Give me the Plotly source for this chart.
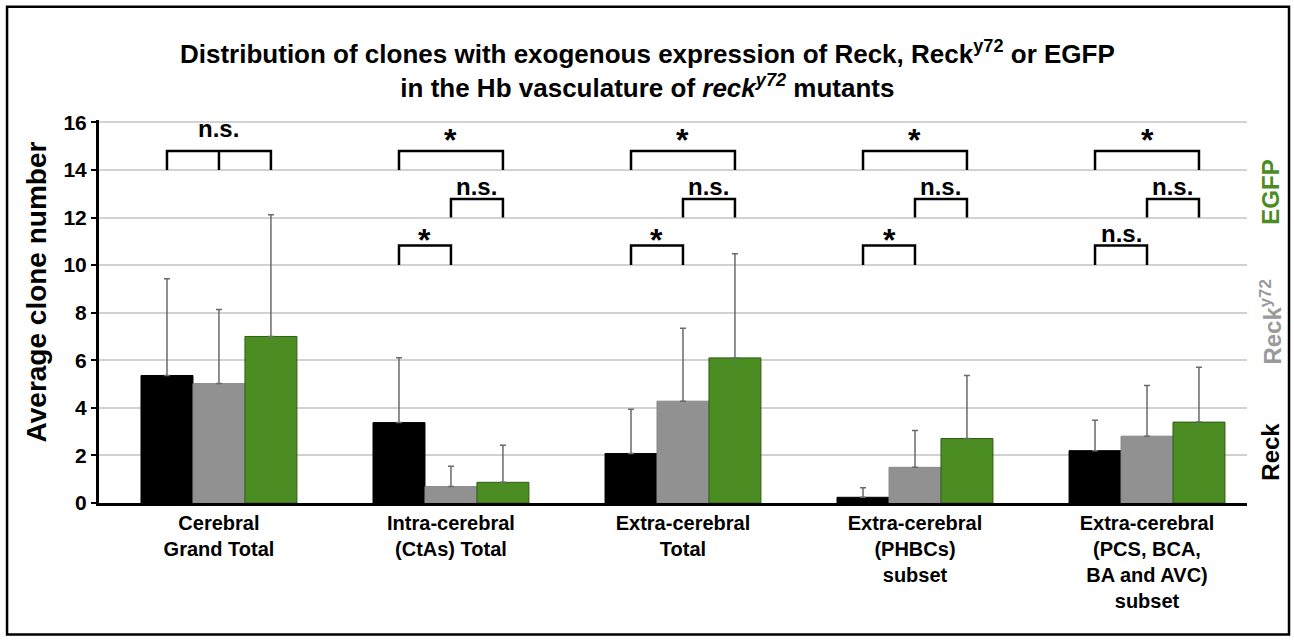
import plotly.graph_objects as go

# ---------------- data ----------------
categories = [
    "Cerebral<br>Grand Total",
    "Intra-cerebral<br>(CtAs) Total",
    "Extra-cerebral<br>Total",
    "Extra-cerebral<br>(PHBCs)<br>subset",
    "Extra-cerebral<br>(PCS, BCA,<br>BA and AVC)<br>subset",
]
series_names = ["Reck", "Reck<sup>y72</sup>", "EGFP"]
reck = [5.36, 3.38, 2.08, 0.24, 2.20]
reck_err = [4.07, 2.73, 1.86, 0.40, 1.28]
reck_y72 = [5.02, 0.69, 4.28, 1.50, 2.81]
reck_y72_err = [3.11, 0.86, 3.07, 1.55, 2.13]
egfp = [7.00, 0.87, 6.10, 2.71, 3.40]
egfp_err = [5.12, 1.56, 4.38, 2.65, 2.31]

# significance labels: Reck vs EGFP (top), Reck^y72 vs EGFP (middle), Reck vs Reck^y72 (lower)
sig_top = ["n.s.", "*", "*", "*", "*"]
sig_mid = [None, "n.s.", "n.s.", "n.s.", "n.s."]
sig_low = [None, "*", "*", "*", "n.s."]

y_ticks = [0, 2, 4, 6, 8, 10, 12, 14, 16]

# ---------------- style ----------------
FONT = "Liberation Sans, Arial, sans-serif"
BLACK = "#000000"
GRAY = "#919191"
GREEN = "#4b8c23"
BARGAP = 0.328
BAR_W = (1 - BARGAP) / 3

x = list(range(len(categories)))

fig = go.Figure()
series = [
    (reck, reck_err, BLACK, "#000000"),
    (reck_y72, reck_y72_err, GRAY, "#8a8a8a"),
    (egfp, egfp_err, GREEN, "#2f5e14"),
]
for name, (vals, errs, col, lcol) in zip(series_names, series):
    fig.add_trace(go.Bar(
        x=x, y=vals, name=name,
        marker=dict(color=col, line=dict(color=lcol, width=1)),
        error_y=dict(type="data", symmetric=False, array=errs,
                     arrayminus=[0] * len(errs), color="#6a6a6a",
                     thickness=1.5, width=3),
        showlegend=False, hoverinfo="skip",
    ))

shapes = []
annotations = []


def bracket(xs, y_leg, y_top):
    path = f"M {xs[0]} {y_leg} L {xs[0]} {y_top} L {xs[-1]} {y_top} L {xs[-1]} {y_leg}"
    for xm in xs[1:-1]:
        path += f" M {xm} {y_top} L {xm} {y_leg}"
    shapes.append(dict(type="path", path=path, xref="x", yref="y",
                       line=dict(color=BLACK, width=2.5)))


def label(xc, yc, txt):
    size = 32 if txt == "*" else 24
    annotations.append(dict(x=xc, y=yc, xref="x", yref="y", text=f"<b>{txt}</b>",
                            showarrow=False, yanchor="middle",
                            font=dict(family=FONT, size=size, color=BLACK)))


for i in x:
    left, mid, right = i - BAR_W, i, i + BAR_W
    if i == 0:
        bracket([left, mid, right], 14.0, 14.8)
    else:
        bracket([left, right], 14.0, 14.8)
    if sig_top[i]:
        label(i, 15.75 if sig_top[i] != "*" else 15.27, sig_top[i])
    if sig_mid[i]:
        bracket([mid, right], 12.0, 12.78)
        label(i + BAR_W / 2, 13.3 if sig_mid[i] != "*" else 13.2, sig_mid[i])
    if sig_low[i]:
        bracket([left, mid], 10.0, 10.82)
        label(i - BAR_W / 2, 11.34 if sig_low[i] != "*" else 11.05, sig_low[i])

# frame around the chart
shapes.append(dict(type="rect", xref="paper", yref="paper",
                   x0=-0.0801, x1=1.0366, y0=-0.3432, y1=1.2957,
                   line=dict(color=BLACK, width=2.5)))

# title
annotations.append(dict(
    xref="paper", yref="paper", x=0.4774, y=1.1313, showarrow=False,
    xanchor="center", yanchor="middle",
    text="<b>Distribution of clones with exogenous expression of Reck, Reck<sup>y72</sup> or EGFP"
         "<br>in the Hb vasculature of <i>reck<sup>y72</sup></i> mutants</b>",
    font=dict(family=FONT, size=26, color=BLACK)))

# y axis title
annotations.append(dict(
    xref="paper", yref="paper", x=-0.0548, y=0.55, showarrow=False,
    textangle=-90, xanchor="center", yanchor="middle",
    text="<b>Average clone number</b>",
    font=dict(family=FONT, size=28, color=BLACK)))

# right-hand series labels
for txt, yc, col in [("EGFP", 0.8129, GREEN), (series_names[1], 0.4736, "#9a9a9a"),
                     ("Reck", 0.134, BLACK)]:
    annotations.append(dict(
        xref="paper", yref="paper", x=1.0209, y=yc, showarrow=False,
        textangle=-90, xanchor="center", yanchor="middle",
        text=f"<b>{txt}</b>", font=dict(family=FONT, size=24, color=col)))

fig.update_layout(
    width=1294, height=640,
    margin=dict(l=99, r=47, t=120, b=137, pad=0),
    paper_bgcolor="white", plot_bgcolor="white",
    barmode="group", bargap=BARGAP, bargroupgap=0,
    shapes=shapes, annotations=annotations, hovermode=False,
    xaxis=dict(
        range=[-0.517, 4.431], tickvals=x, ticktext=[f"<b>{c}</b>" for c in categories],
        showline=True, linecolor=BLACK, linewidth=3, showgrid=False, ticks="",
        tickfont=dict(family=FONT, size=20, color=BLACK), zeroline=False,
    ),
    yaxis=dict(
        range=[0, 16.1], tickvals=y_ticks, ticktext=[f"<b>{t}</b>" for t in y_ticks],
        showline=True, linecolor=BLACK, linewidth=3, showgrid=True,
        gridcolor="#d2d2d2", gridwidth=2, ticks="outside", ticklen=5, tickwidth=2,
        tickcolor=BLACK, tickfont=dict(family=FONT, size=21, color=BLACK),
        zeroline=False,
    ),
)

fig.write_html("out.html", config={"displayModeBar": False},
               post_script="document.body.style.margin='0px';")
